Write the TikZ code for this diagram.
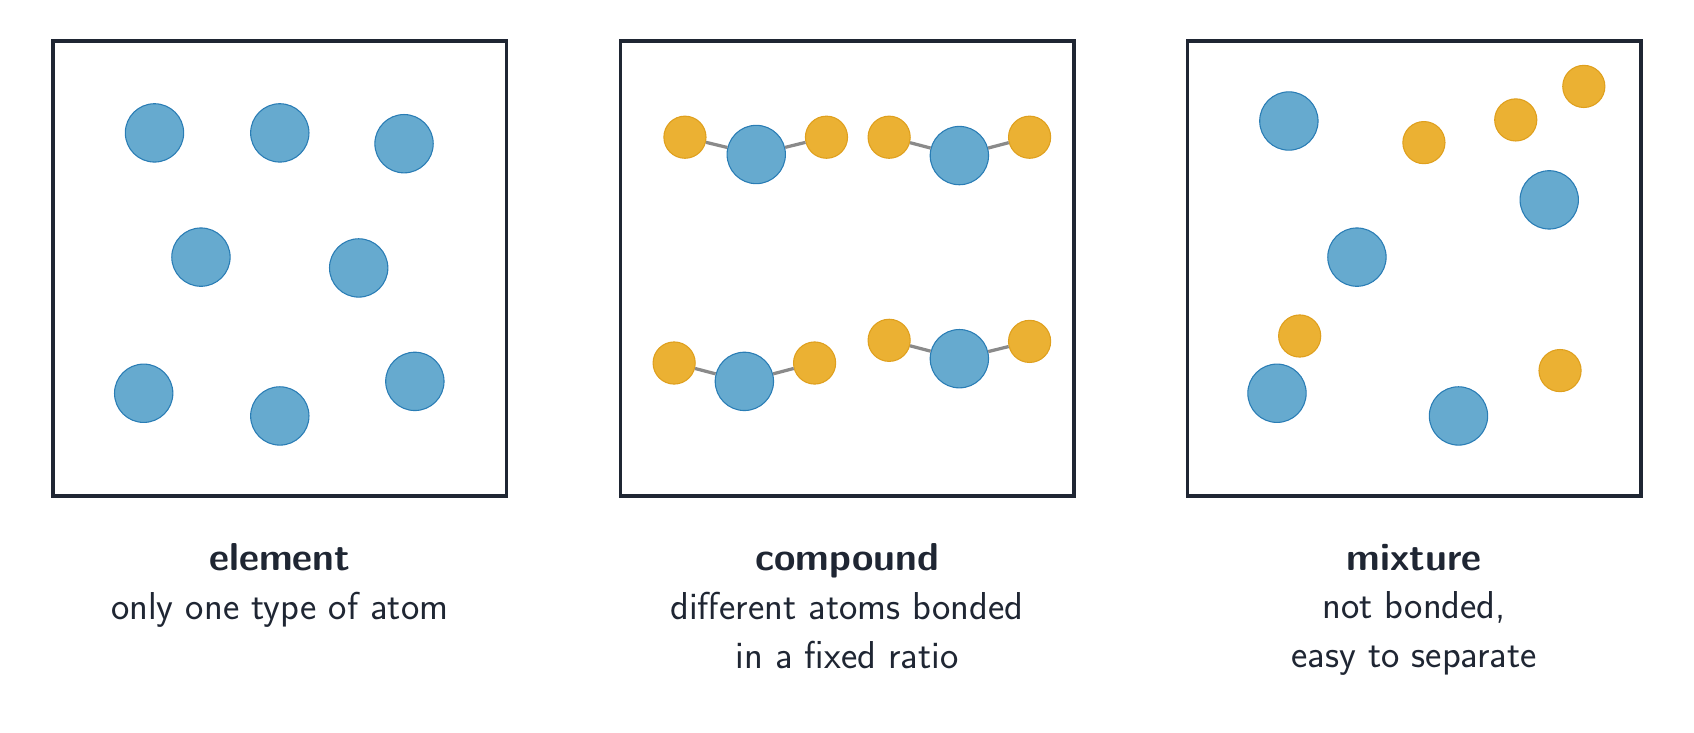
\documentclass[tikz,border=0pt]{standalone}
\usepackage{xcolor}
\definecolor{ink}{HTML}{1F2633}
\definecolor{bluefill}{HTML}{66AACF}
\definecolor{bluedraw}{HTML}{2A7DB5}
\definecolor{goldfill}{HTML}{EBB133}
\definecolor{golddraw}{HTML}{DFA01E}
\definecolor{bondgray}{HTML}{8A8A8A}
\tikzset{
  box/.style={draw=ink,line width=3pt},
  big/.style={circle,fill=bluefill,draw=bluedraw,line width=1pt,minimum size=54pt,inner sep=0pt},
  small/.style={circle,fill=goldfill,draw=golddraw,line width=1pt,minimum size=39pt,inner sep=0pt},
  bond/.style={draw=bondgray,line width=3pt},
  caption/.style={text=ink,font=\sffamily\fontsize{36}{45}\selectfont,align=center}
}
\begin{document}
\begin{tikzpicture}[x=1pt,y=-1pt]
            \useasboundingbox (0,0) rectangle (1568,678);
            \draw[box] (49,38) rectangle (469,459);
            \draw[box] (574,38) rectangle (994,459);
            \draw[box] (1099,38) rectangle (1519,459);
            % element
            \node[big] (e1) at (143,123) {};
            \node[big] (e2) at (259,123) {};
            \node[big] (e3) at (374,133) {};
            \node[big] (e4) at (186,238) {};
            \node[big] (e5) at (332,248) {};
            \node[big] (e6) at (133,364) {};
            \node[big] (e7) at (259,385) {};
            \node[big] (e8) at (384,353) {};
            % compound
            \node[small] (a1) at (634,127) {};
            \node[big] (b1) at (700,143) {};
            \node[small] (c1) at (765,127) {};
            \node[small] (a2) at (823,127) {};
            \node[big] (b2) at (888,144) {};
            \node[small] (c2) at (953,127) {};
            \node[small] (a3) at (624,336) {};
            \node[big] (b3) at (689,353) {};
            \node[small] (c3) at (754,336) {};
            \node[small] (a4) at (823,315) {};
            \node[big] (b4) at (888,332) {};
            \node[small] (c4) at (953,316) {};
            \draw[bond] (a1) -- (b1);
            \draw[bond] (b1) -- (c1);
            \draw[bond] (a2) -- (b2);
            \draw[bond] (b2) -- (c2);
            \draw[bond] (a3) -- (b3);
            \draw[bond] (b3) -- (c3);
            \draw[bond] (a4) -- (b4);
            \draw[bond] (b4) -- (c4);
            % mixture
            \node[big] (m1) at (1193,112) {};
            \node[big] (m2) at (1434,185) {};
            \node[big] (m3) at (1256,238) {};
            \node[big] (m4) at (1182,364) {};
            \node[big] (m5) at (1350,385) {};
            \node[small] (n1) at (1318,132) {};
            \node[small] (n2) at (1403,111) {};
            \node[small] (n3) at (1466,80) {};
            \node[small] (n4) at (1203,311) {};
            \node[small] (n5) at (1444,343) {};
            % captions
            \node[caption,anchor=north] (t1) at (259,500) {\textbf{element}\\only one type of atom};
            \node[caption,anchor=north] (t2) at (784,500) {\textbf{compound}\\different atoms bonded\\in a fixed ratio};
            \node[caption,anchor=north] (t3) at (1309,500) {\textbf{mixture}\\not bonded,\\easy to separate};
        \end{tikzpicture}
\end{document}
